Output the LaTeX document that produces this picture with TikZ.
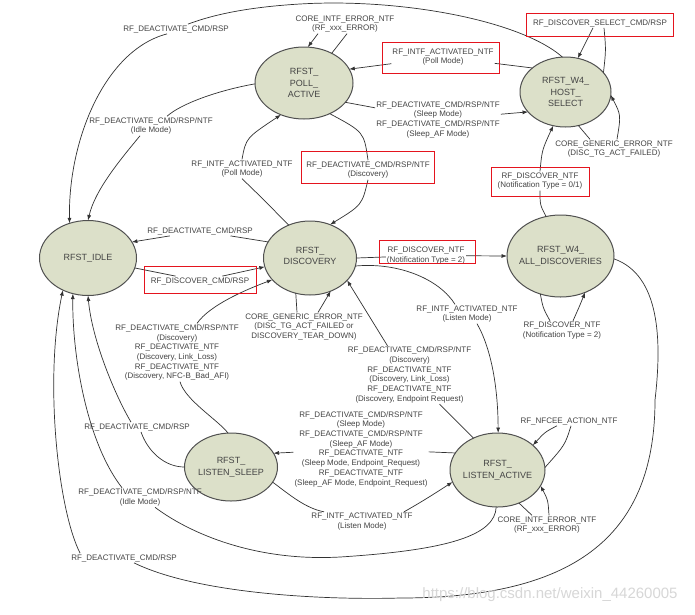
\documentclass[tikz,border=0pt]{standalone}
\usepackage{fontspec}
\setmainfont{Liberation Sans}
\usetikzlibrary{shapes.geometric,arrows.meta}
\definecolor{statefill}{RGB}{220,224,201}
\definecolor{stateline}{RGB}{80,80,80}
\definecolor{lncol}{RGB}{50,50,50}
\definecolor{txtcol}{RGB}{68,68,68}
\definecolor{boxred}{RGB}{228,20,30}
\definecolor{wmcol}{RGB}{215,215,215}
\begin{document}
\begin{tikzpicture}[x=1pt,y=-1pt,
  state/.style={ellipse, draw=stateline, fill=statefill, line width=1pt, inner sep=0pt, outer sep=0pt},
  stxt/.style={font=\fontsize{9}{11.5}\selectfont, text=txtcol, align=center},
  lbl/.style={font=\fontsize{8}{9.7}\selectfont, text=txtcol, align=center, inner sep=1pt},
  ln/.style={draw=lncol, line width=0.7pt},
  arr/.style={ln, -{Latex[length=5.5pt,width=4pt]}},
  redbox/.style={draw=boxred, line width=1pt}]

\useasboundingbox[fill=white] (0,0) rectangle (695,614);

% states
\node[state, minimum width=97pt, minimum height=75pt, label={[stxt]center:RFST\_IDLE}] (idle) at (88,258) {};
\node[state, minimum width=98pt, minimum height=72pt, label={[stxt]center:{RFST\_\\POLL\_\\ACTIVE}}] (poll) at (304,83) {};
\node[state, minimum width=91pt, minimum height=70pt, label={[stxt]center:{RFST\_W4\_\\HOST\_\\SELECT}}] (host) at (565.5,92) {};
\node[state, minimum width=93pt, minimum height=74pt, label={[stxt,yshift=2pt]center:{RFST\_\\DISCOVERY}}] (disc) at (310,258) {};
\node[state, minimum width=107pt, minimum height=82pt, label={[stxt]center:{RFST\_W4\_\\ALL\_DISCOVERIES}}] (alld) at (560.5,256) {};
\node[state, minimum width=93pt, minimum height=68pt, label={[stxt]center:{RFST\_\\LISTEN\_SLEEP}}] (sleep) at (231,467) {};
\node[state, minimum width=95pt, minimum height=74pt, label={[stxt]center:{RFST\_\\LISTEN\_ACTIVE}}] (lact) at (497.5,470) {};

% labels
\node[lbl] (L1) at (200,281) {RF\_DISCOVER\_CMD/RSP};
\node[lbl] (L2) at (200,231) {RF\_DEACTIVATE\_CMD/RSP};
\node[lbl] (L3) at (242,169) {RF\_INTF\_ACTIVATED\_NTF\\(Poll Mode)};
\node[lbl] (L4) at (368,170) {RF\_DEACTIVATE\_CMD/RSP/NTF\\(Discovery)};
\node[lbl] (L5) at (345,24) {CORE\_INTF\_ERROR\_NTF\\(RF\_xxx\_ERROR)};
\node[lbl] (L6) at (443,57) {RF\_INTF\_ACTIVATED\_NTF\\(Poll Mode)};
\node[lbl] (L7) at (438,119.5) {RF\_DEACTIVATE\_CMD/RSP/NTF\\(Sleep Mode)\\RF\_DEACTIVATE\_CMD/RSP/NTF\\(Sleep\_AF Mode)};
\node[lbl] (L8) at (600,23) {RF\_DISCOVER\_SELECT\_CMD/RSP};
\node[lbl] (L9) at (614,149) {CORE\_GENERIC\_ERROR\_NTF\\(DISC\_TG\_ACT\_FAILED)};
\node[lbl] (L10) at (540,181) {RF\_DISCOVER\_NTF\\(Notification Type = 0/1)};
\node[lbl] (L11) at (426,255.5) {RF\_DISCOVER\_NTF\\(Notification Type = 2)};
\node[lbl] (L12) at (562,330.5) {RF\_DISCOVER\_NTF\\(Notification Type = 2)};
\node[lbl] (L13) at (124,558) {RF\_DEACTIVATE\_CMD/RSP};
\node[lbl] (L14) at (140,497.5) {RF\_DEACTIVATE\_CMD/RSP/NTF\\(Idle Mode)};
\node[lbl] (L15) at (137,427) {RF\_DEACTIVATE\_CMD/RSP};
\node[lbl] (L16) at (177,352.5) {RF\_DEACTIVATE\_CMD/RSP/NTF\\(Discovery)\\RF\_DEACTIVATE\_NTF\\(Discovery, Link\_Loss)\\RF\_DEACTIVATE\_NTF\\(Discovery, NFC-B\_Bad\_AFI)};
\node[lbl] (L17) at (304,327) {CORE\_GENERIC\_ERROR\_NTF\\(DISC\_TG\_ACT\_FAILED or\\DISCOVERY\_TEAR\_DOWN)};
\node[lbl] (L18) at (409.5,375) {RF\_DEACTIVATE\_CMD/RSP/NTF\\(Discovery)\\RF\_DEACTIVATE\_NTF\\(Discovery, Link\_Loss)\\RF\_DEACTIVATE\_NTF\\(Discovery, Endpoint Request)};
\node[lbl] (L19) at (467,314) {RF\_INTF\_ACTIVATED\_NTF\\(Listen Mode)};
\node[lbl] (L20) at (361,449) {RF\_DEACTIVATE\_CMD/RSP/NTF\\(Sleep Mode)\\RF\_DEACTIVATE\_CMD/RSP/NTF\\(Sleep\_AF Mode)\\RF\_DEACTIVATE\_NTF\\(Sleep Mode, Endpoint\_Request)\\RF\_DEACTIVATE\_NTF\\(Sleep\_AF Mode, Endpoint\_Request)};
\node[lbl] (L21) at (362,521.5) {RF\_INTF\_ACTIVATED\_NTF\\(Listen Mode)};
\node[lbl] (L22) at (569,421) {RF\_NFCEE\_ACTION\_NTF};
\node[lbl] (L23) at (547,525) {CORE\_INTF\_ERROR\_NTF\\(RF\_xxx\_ERROR)};
\node[lbl] (L24) at (176,29) {RF\_DEACTIVATE\_CMD/RSP};
\node[lbl] (L25) at (151,126) {RF\_DEACTIVATE\_CMD/RSP/NTF\\(Idle Mode)};

% connectors
\draw[ln] (idle.-12) -- (L1);
\draw[arr] (L1) -- (disc.191);
\draw[ln] (disc.159) -- (L2);
\draw[arr] (L2) -- (idle.20);
\draw[ln] (disc.123) .. controls (262,198) .. (L3.south);
\draw[arr] (L3.north) .. controls (246,138) .. (poll.234);
\draw[ln] (poll.-50) .. controls (364,132) .. (L4.north);
\draw[arr] (L4.south) .. controls (362,205) .. (disc.59);
\draw[ln] (poll.47) -- ([xshift=2]L5.south);
\draw[arr] ([xshift=-27]L5.south) -- (poll.84);
\draw[ln] (host.144) -- (L6);
\draw[arr] (L6) -- (poll.17);
\draw[ln] (poll.-25) -- (L7);
\draw[arr] (L7) -- (host.208);
\draw[arr] ([xshift=-7]L8.south) -- (host.70);
\draw[ln] ([xshift=4]L8.south) .. controls (606,50) .. (host.27);
\draw[ln] (host.-69) -- ([xshift=-24]L9.north);
\draw[arr] ([xshift=3]L9.north) .. controls (621,115) .. (host.-4);
\draw[ln] (alld.110) .. controls (540,205) .. (L10.south);
\draw[arr] (L10.north) .. controls (542,150) .. (host.250);
\draw[ln] (disc.0) -- (L11);
\draw[arr] (L11) -- (alld.180);
\draw[ln] (alld.242) .. controls (543,308) .. ([xshift=-12]L12.north);
\draw[arr] ([xshift=11]L12.north) .. controls (580,305) .. (alld.-56);
\draw[ln] (alld.-3) .. controls (660,275) and (662,340) .. (655,400) .. controls (655,540) and (570,598) .. (400,598) .. controls (330,600) and (200,595) .. (L13);
\draw[arr] ([xshift=10]L13.north west) .. controls (58,510) and (44,380) .. (idle.-128);
\draw[ln] (lact.-92) .. controls (495,535) and (450,550) .. (340,557) .. controls (250,562) and (185,530) .. ([xshift=15]L14.south);
\draw[arr] ([xshift=-18]L14.north) .. controls (85,440) and (72,350) .. (idle.-113);
\draw[ln] (sleep.180) .. controls (165,467) and (148,452) .. ([xshift=4]L15.south);
\draw[arr] ([xshift=-6]L15.north) .. controls (115,395) and (92,340) .. (idle.-90);
\draw[ln] (sleep.95) .. controls (218,420) and (185,400) .. ([xshift=3]L16.south);
\draw[arr] ([xshift=20]L16.north) .. controls (210,305) and (245,290) .. (disc.210);
\draw[ln] (disc.-112) -- ([xshift=-7]L17.north);
\draw[arr] ([xshift=14]L17.north) -- (disc.-58);
\draw[ln] (lact.127) -- ([xshift=30]L18.south);
\draw[arr] ([xshift=-22]L18.north) -- (disc.-31);
\draw[ln] (disc.-10) .. controls (400,262) and (440,280) .. ([xshift=-12]L19.north);
\draw[arr] ([xshift=10]L19.south) .. controls (492,350) and (498,390) .. (lact.89);
\draw[ln] (lact.158) -- (L20);
\draw[arr] (L20) -- (sleep.18);
\draw[ln] (sleep.-20) .. controls (290,495) and (305,508) .. ([xshift=-38]L21.north);
\draw[arr] ([xshift=42]L21.north) .. controls (425,500) and (440,490) .. (lact.195);
\draw[arr] ([xshift=-12]L22.south) .. controls (545,432) .. (lact.35);
\draw[ln] ([xshift=2]L22.south) .. controls (565,445) .. (lact.3);
\draw[ln] (lact.-57) -- ([xshift=-15]L23.north);
\draw[arr] ([xshift=2]L23.north) .. controls (548,500) .. (lact.-20);
\draw[ln] (host.95) .. controls (520,20) and (400,-2) .. (300,4) .. controls (250,7) and (215,14) .. ([xshift=12]L24.north);
\draw[arr] ([xshift=-9]L24.south) .. controls (105,50) and (68,140) .. (idle.118);
\draw[ln] (poll.181) .. controls (220,90) and (182,103) .. ([xshift=16]L25.north);
\draw[arr] ([xshift=-11]L25.south) .. controls (120,160) and (95,190) .. (idle.90);

% red highlight boxes
\draw[redbox] (144,266) rectangle (256,293);
\draw[redbox] (301,151) rectangle (434,183);
\draw[redbox] (379,240) rectangle (475,263);
\draw[redbox] (382,42) rectangle (499,73);
\draw[redbox] (526,13) rectangle (673,36);
\draw[redbox] (491,167) rectangle (589,196);

% watermark
\node[font=\fontsize{15}{15}\selectfont, text=wmcol, inner sep=0pt] (wm) at (550,595) {https://blog.csdn.net/weixin\_44260005};
\end{tikzpicture}
\end{document}
